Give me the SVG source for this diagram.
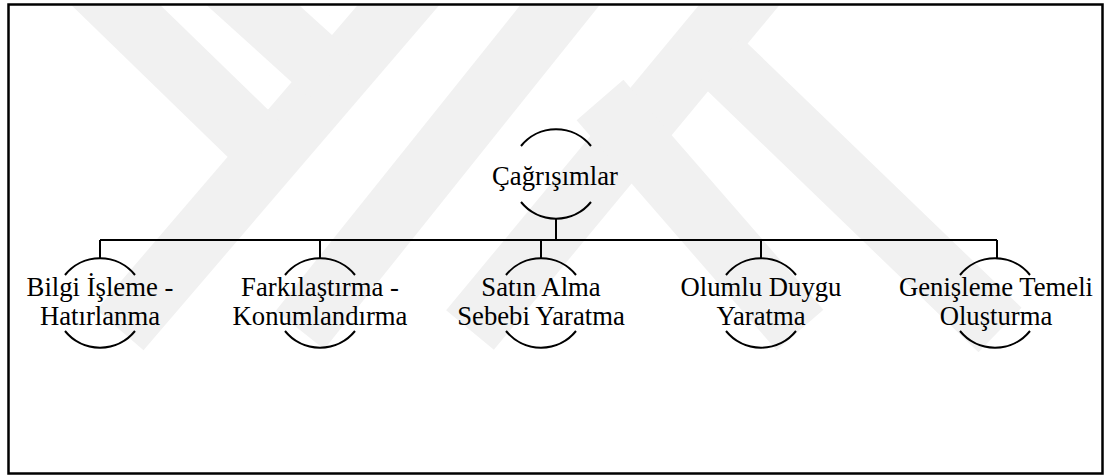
<svg xmlns="http://www.w3.org/2000/svg" width="1105" height="475" viewBox="0 0 1105 475">
<style>
.lbl{font-family:'Liberation Serif','Times New Roman',Tinos,'Noto Serif','DejaVu Serif',serif;font-size:26.7px;fill:#000;text-anchor:middle}
.arc{fill:none;stroke:#000;stroke-width:2}
.conn{fill:none;stroke:#000;stroke-width:2}
.wm{fill:none;stroke:#f1f1f1;stroke-width:62;stroke-linecap:butt}
</style>
<defs>
<clipPath id="inner"><rect x="9" y="5" width="1093" height="467"/></clipPath>
</defs>
<rect x="0" y="0" width="1105" height="475" fill="#fff"/>
<g id="watermark" clip-path="url(#inner)">
<line class="wm" x1="420" y1="-20" x2="120" y2="330"/>
<line class="wm" x1="90" y1="-20" x2="265" y2="150"/>
<line class="wm" x1="225" y1="-20" x2="330" y2="75"/>
<line class="wm" x1="580" y1="-20" x2="300" y2="330"/>
<line class="wm" x1="760" y1="-20" x2="470" y2="330"/>
<line class="wm" x1="600" y1="100" x2="800" y2="330"/>
<line class="wm" x1="720" y1="60" x2="1000" y2="330"/>
</g>
<rect x="8.5" y="4.5" width="1094" height="469" fill="none" stroke="#000" stroke-width="2.5"/>
<g id="connectors">
<path class="conn" d="M556 219V240M100 240H997M100 240V258M320 240V258M541 240V258M761 240V258M997 240V258"/>
</g>
<g id="n0">
<path class="arc" d="M521 146A45 45 0 0 1 591 146"/>
<path class="arc" d="M521 202A45 45 0 0 0 591 202"/>
<text class="lbl" font-family="Liberation Serif" x="555" y="185">Çağrışımlar</text>
</g>
<g id="n1">
<path class="arc" d="M65 275A45 45 0 0 1 135 275"/>
<path class="arc" d="M65 331A45 45 0 0 0 135 331"/>
<text class="lbl" x="100" y="296">Bilgi İşleme -</text>
<text class="lbl" x="100" y="325">Hatırlanma</text>
</g>
<g id="n2">
<path class="arc" d="M285 275A45 45 0 0 1 355 275"/>
<path class="arc" d="M285 331A45 45 0 0 0 355 331"/>
<text class="lbl" x="320" y="296">Farkılaştırma -</text>
<text class="lbl" x="320" y="325">Konumlandırma</text>
</g>
<g id="n3">
<path class="arc" d="M506 275A45 45 0 0 1 576 275"/>
<path class="arc" d="M506 331A45 45 0 0 0 576 331"/>
<text class="lbl" x="541" y="296">Satın Alma</text>
<text class="lbl" x="541" y="325">Sebebi Yaratma</text>
</g>
<g id="n4">
<path class="arc" d="M726 275A45 45 0 0 1 796 275"/>
<path class="arc" d="M726 331A45 45 0 0 0 796 331"/>
<text class="lbl" x="761" y="296">Olumlu Duygu</text>
<text class="lbl" x="761" y="325">Yaratma</text>
</g>
<g id="n5">
<path class="arc" d="M960 275A45 45 0 0 1 1030 275"/>
<path class="arc" d="M960 331A45 45 0 0 0 1030 331"/>
<text class="lbl" x="996" y="296">Genişleme Temeli</text>
<text class="lbl" x="996" y="325">Oluşturma</text>
</g>
</svg>
